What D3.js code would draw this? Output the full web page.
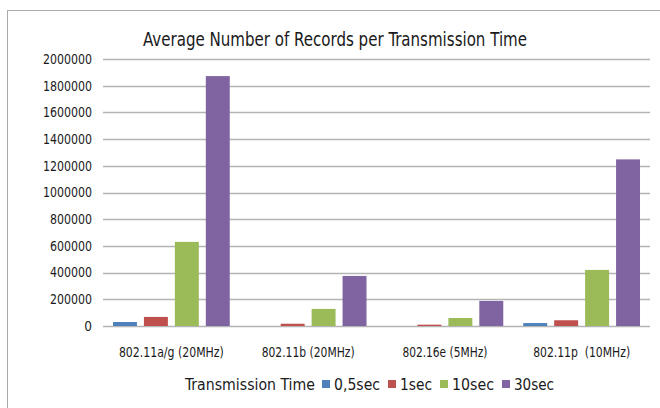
<!DOCTYPE html>
<html><head><meta charset="utf-8">
<script src="https://cdn.jsdelivr.net/npm/d3@7"></script>
<style>body{margin:0;background:#fff}svg{display:block}text{font-family:"DejaVu Sans Condensed","DejaVu Sans",sans-serif;font-stretch:condensed;fill:#1a1a1a}</style>
</head><body><svg id="c" width="660" height="408"></svg>
<script>
const categories = ["802.11a/g (20MHz)", "802.11b (20MHz)", "802.16e (5MHz)", "802.11p  (10MHz)"];
const seriesNames = ["0,5sec", "1sec", "10sec", "30sec"];
const s05 = [30000, 0, 0, 22000];
const s1 = [68000, 17000, 10000, 43000];
const s10 = [630000, 128000, 60000, 420000];
const s30 = [1872000, 375000, 188000, 1248000];
const yTicks = [0, 200000, 400000, 600000, 800000, 1000000, 1200000, 1400000, 1600000, 1800000, 2000000];
const colors = ["#4F81BD", "#C0504D", "#9BBB59", "#8064A2"];
const title = "Average Number of Records per Transmission Time";
const legendTitle = "Transmission Time";

const values = [s05, s1, s10, s30];
const svg = d3.select("#c");
svg.append("rect").attr("x", 7.5).attr("y", 10.5).attr("width", 700).attr("height", 500)
  .attr("fill", "#fff").attr("stroke", "#aaa");

function fit(sel, w) {
  sel.each(function () {
    const n = this.getComputedTextLength();
    if (Math.abs(n - w) > 1) d3.select(this).attr("textLength", w).attr("lengthAdjust", "spacingAndGlyphs");
  });
}

const L = 103, R = 650, T = 59, B = 326;
const x0 = d3.scaleBand().domain(categories).range([L, R]).padding(0);
const bw = x0.bandwidth();
const x1 = d3.scaleBand().domain(seriesNames).range([bw * 0.073, bw * 0.927]).paddingInner(0.226).paddingOuter(0);
const y = d3.scaleLinear().domain([0, 2000000]).range([B, T]);

svg.append("g").selectAll("line").data(yTicks).join("line")
  .attr("x1", L).attr("x2", R).attr("y1", d => Math.round(y(d)) + 0.5).attr("y2", d => Math.round(y(d)) + 0.5)
  .attr("stroke", "#b4b4b4").attr("stroke-width", 1.3);

const yAxis = d3.axisLeft(y).tickValues(yTicks).tickSize(0).tickPadding(11).tickFormat(d3.format("d"));
const ga = svg.append("g").attr("transform", `translate(${L},0)`).call(yAxis);
ga.select(".domain").remove();
ga.selectAll("text").attr("font-size", 13.5).style("font-family", null).attr("fill", "#1a1a1a").each(function () {
  const t = d3.select(this); fit(t, t.text().length * 7);
});

const groups = svg.append("g").selectAll("g").data(categories).join("g")
  .attr("transform", d => `translate(${x0(d)},0)`);
groups.selectAll("rect").data((c, i) => seriesNames.map((s, j) => ({s, v: values[j][i], j})))
  .join("rect")
  .attr("x", d => x1(d.s)).attr("width", x1.bandwidth())
  .attr("y", d => y(d.v)).attr("height", d => B - y(d.v))
  .attr("fill", d => colors[d.j]);

const xAxis = d3.axisBottom(x0).tickSize(0).tickPadding(21);
const gx = svg.append("g").attr("transform", `translate(0,${B})`).call(xAxis);
gx.select(".domain").remove();
const catW = [105, 93, 85, 97];
gx.selectAll("text").attr("font-size", 13.5).style("font-family", null).attr("fill", "#1a1a1a").style("white-space", "pre")
  .each(function (d, i) { fit(d3.select(this), catW[i]); });

const tt = svg.append("text").attr("x", 335).attr("y", 46).attr("text-anchor", "middle")
  .attr("font-size", 20).text(title);
fit(tt, 384);

// legend
const lg = svg.append("g").attr("transform", "translate(0,384)");
const lt = lg.append("text").attr("x", 185).attr("y", 6).attr("font-size", 16.5).text(legendTitle);
fit(lt, 130);
const lx = [322, 388, 440, 502];
const lw = [46, 32, 42, 40];
seriesNames.forEach((s, i) => {
  lg.append("rect").attr("x", lx[i]).attr("y", -4).attr("width", 8).attr("height", 8).attr("fill", colors[i]);
  const t = lg.append("text").attr("x", lx[i] + 12).attr("y", 6).attr("font-size", 16.5).text(s);
  fit(t, lw[i]);
});
</script></body></html>
